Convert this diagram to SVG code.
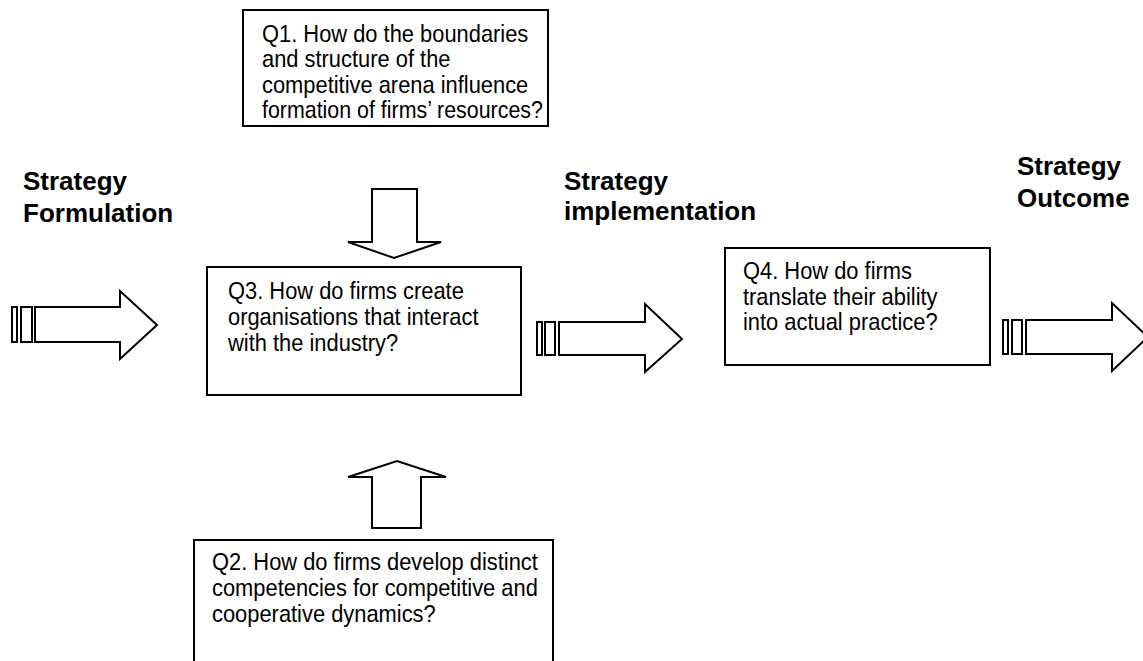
<svg xmlns="http://www.w3.org/2000/svg" width="1143" height="661" viewBox="0 0 1143 661">
<style>
.box{fill:#fff;stroke:#000;stroke-width:2}
.arr{fill:#fff;stroke:#000;stroke-width:2;stroke-linejoin:miter}
.q{font-family:"Liberation Sans",Arial,sans-serif;font-size:24px;fill:#000}
.lbl{font-family:"Liberation Sans",Arial,sans-serif;font-size:26px;font-weight:bold;fill:#000}
</style>
<rect width="1143" height="661" fill="#fff"/>
<g id="connectors">
  <g id="arrow-in">
    <rect class="arr" x="12" y="307" width="5" height="35"/>
    <rect class="arr" x="21" y="307" width="11" height="35"/>
    <polygon class="arr" points="35,307 120,307 120,291 157,325 120,359 120,342 35,342"/>
  </g>
  <g id="arrow-q3-q4">
    <rect class="arr" x="537" y="322" width="5" height="33"/>
    <rect class="arr" x="545" y="322" width="10" height="33"/>
    <polygon class="arr" points="559,322 645,322 645,304 682,339 645,372 645,355 559,355"/>
  </g>
  <g id="arrow-out">
    <rect class="arr" x="1003" y="320" width="5" height="34"/>
    <rect class="arr" x="1012" y="320" width="10" height="34"/>
    <polygon class="arr" points="1026,320 1112,320 1112,303 1148,337 1112,371 1112,354 1026,354"/>
  </g>
  <polygon id="arrow-q1-q3" class="arr" points="372,189 417,189 417,242 441,242 394,258 348,242 372,242"/>
  <polygon id="arrow-q2-q3" class="arr" points="372,528 421,528 421,477 446,477 397,461 348,477 372,477"/>
</g>
<g id="label-formulation">
  <text class="lbl" x="23" y="190">Strategy</text>
  <text class="lbl" x="23" y="222">Formulation</text>
</g>
<g id="label-implementation">
  <text class="lbl" x="564" y="190">Strategy</text>
  <text class="lbl" x="564" y="220">implementation</text>
</g>
<g id="label-outcome">
  <text class="lbl" x="1017" y="175">Strategy</text>
  <text class="lbl" x="1017" y="207">Outcome</text>
</g>
<g id="q1">
  <rect class="box" x="243" y="10" width="305" height="116"/>
  <g transform="translate(262,0) scale(0.912,1)">
    <text class="q" x="0" y="42">Q1. How do the boundaries</text>
    <text class="q" x="0" y="67">and structure of the</text>
    <text class="q" x="0" y="93">competitive arena influence</text>
    <text class="q" x="0" y="118" textLength="308" lengthAdjust="spacingAndGlyphs">formation of firms’ resources?</text>
  </g>
</g>
<g id="q3">
  <rect class="box" x="207" y="267" width="314" height="128"/>
  <g transform="translate(228,0) scale(0.912,1)">
    <text class="q" x="0" y="299">Q3. How do firms create</text>
    <text class="q" x="0" y="325">organisations that interact</text>
    <text class="q" x="0" y="351">with the industry?</text>
  </g>
</g>
<g id="q4">
  <rect class="box" x="725" y="248" width="265" height="117"/>
  <g transform="translate(743,0) scale(0.912,1)">
    <text class="q" x="0" y="279">Q4. How do firms</text>
    <text class="q" x="0" y="305">translate their ability</text>
    <text class="q" x="0" y="330">into actual practice?</text>
  </g>
</g>
<g id="q2">
  <rect class="box" x="194" y="540" width="359" height="140"/>
  <g transform="translate(212,0) scale(0.912,1)">
    <text class="q" x="0" y="570">Q2. How do firms develop distinct</text>
    <text class="q" x="0" y="596">competencies for competitive and</text>
    <text class="q" x="0" y="622">cooperative dynamics?</text>
  </g>
</g>
</svg>
